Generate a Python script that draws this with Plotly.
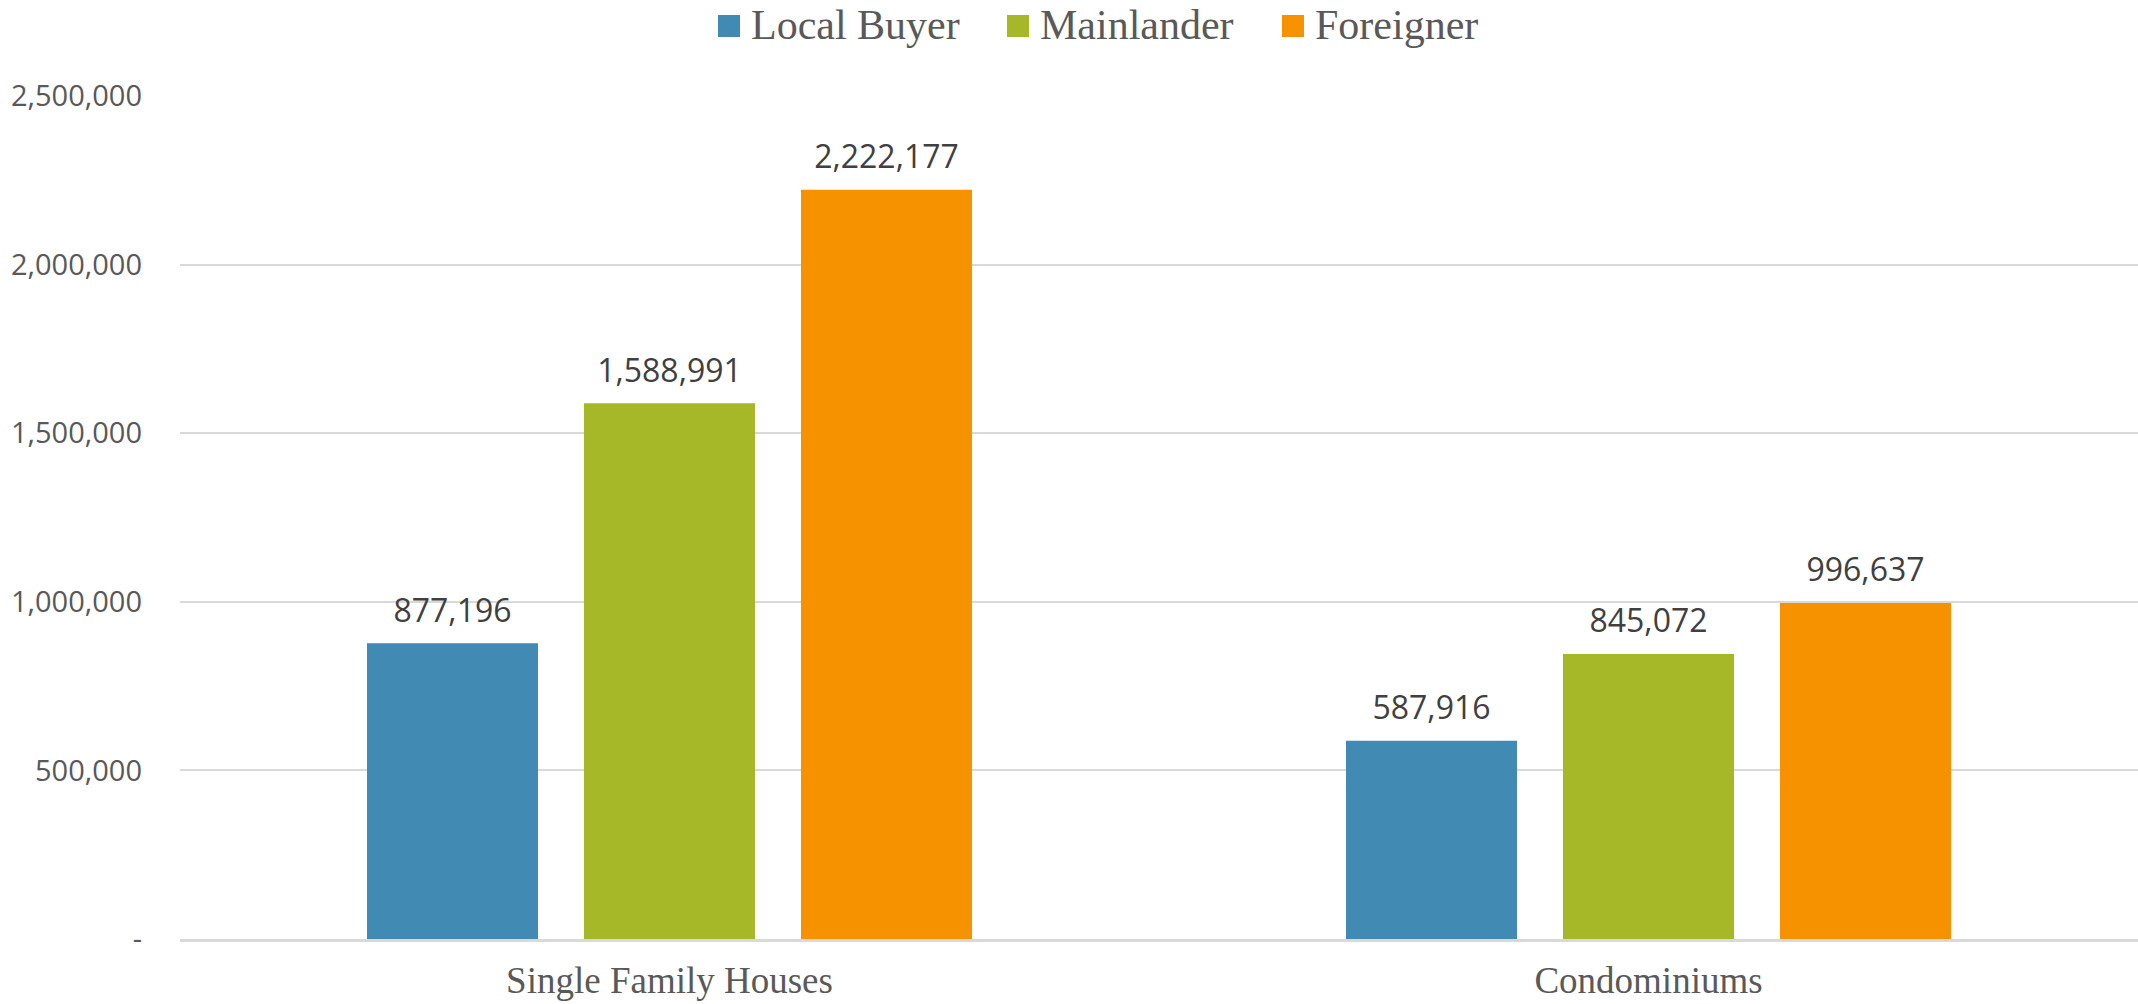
import plotly.graph_objects as go

categories = ["Single Family Houses", "Condominiums"]
series_names = ["Local Buyer", "Mainlander", "Foreigner"]
local_buyer = [877196, 587916]
mainlander = [1588991, 845072]
foreigner = [2222177, 996637]
tick_values = [0, 500000, 1000000, 1500000, 2000000, 2500000]
tick_labels = ["-", "500,000", "1,000,000", "1,500,000", "2,000,000", "2,500,000"]

colors = ["#418AB3", "#A6B727", "#F69200"]
series_values = [local_buyer, mainlander, foreigner]

# plot area in pixels (for converting legend placement to paper fractions)
L, T, W, H = 180, 96, 1958, 843

pad = "<span style='font-size:46px'><sub>\u00a0</sub></span>"

fig = go.Figure()
for name, vals, col in zip(series_names, series_values, colors):
    fig.add_trace(go.Bar(
        x=categories, y=vals, name=name,
        marker=dict(color=col, line=dict(width=0)),
        texttemplate=pad + "%{y:,}" + pad, textposition="outside",
        textfont=dict(family="Open Sans", size=32, color="#404040"),
        cliponaxis=False, showlegend=False,
    ))

# manual legend (large square swatches like the reference)
legend_px = [718, 1007, 1282]  # swatch left edges in px
for name, col, px in zip(series_names, colors, legend_px):
    x0 = (px - L) / W
    fig.add_shape(type="rect", xref="paper", yref="paper",
                  x0=x0, x1=x0 + 22 / W,
                  y0=(T + H - 37) / H, y1=(T + H - 15) / H,
                  fillcolor=col, line=dict(width=0))
    fig.add_annotation(xref="paper", yref="paper", x=x0 + 31 / W, y=(T + H - 25) / H,
                       text=name, showarrow=False, xanchor="left", yanchor="middle",
                       font=dict(family="Liberation Serif", size=42, color="#595959"))

fig.update_layout(
    width=2138, height=1004,
    margin=dict(l=L, r=0, t=T, b=1004 - T - H),
    paper_bgcolor="white", plot_bgcolor="white",
    barmode="group", bargap=0.335, bargroupgap=0.212,
    showlegend=False,
)
fig.update_xaxes(
    showgrid=False, showline=True, linecolor="#d9d9d9", linewidth=3,
    ticks="", tickfont=dict(family="Liberation Serif", size=37, color="#595959"),
    ticklabelstandoff=7,
)
fig.update_yaxes(
    range=[0, 2500000], tickvals=tick_values, ticktext=tick_labels,
    showgrid=True, gridcolor="#d9d9d9", gridwidth=2, zeroline=False,
    showline=False, ticks="", ticklabelstandoff=37,
    tickfont=dict(family="Open Sans", size=29, color="#595959"),
)

fig.write_html("out.html", config={"displayModeBar": False},
               post_script="document.body.style.margin='0';document.body.style.overflow='hidden';")
